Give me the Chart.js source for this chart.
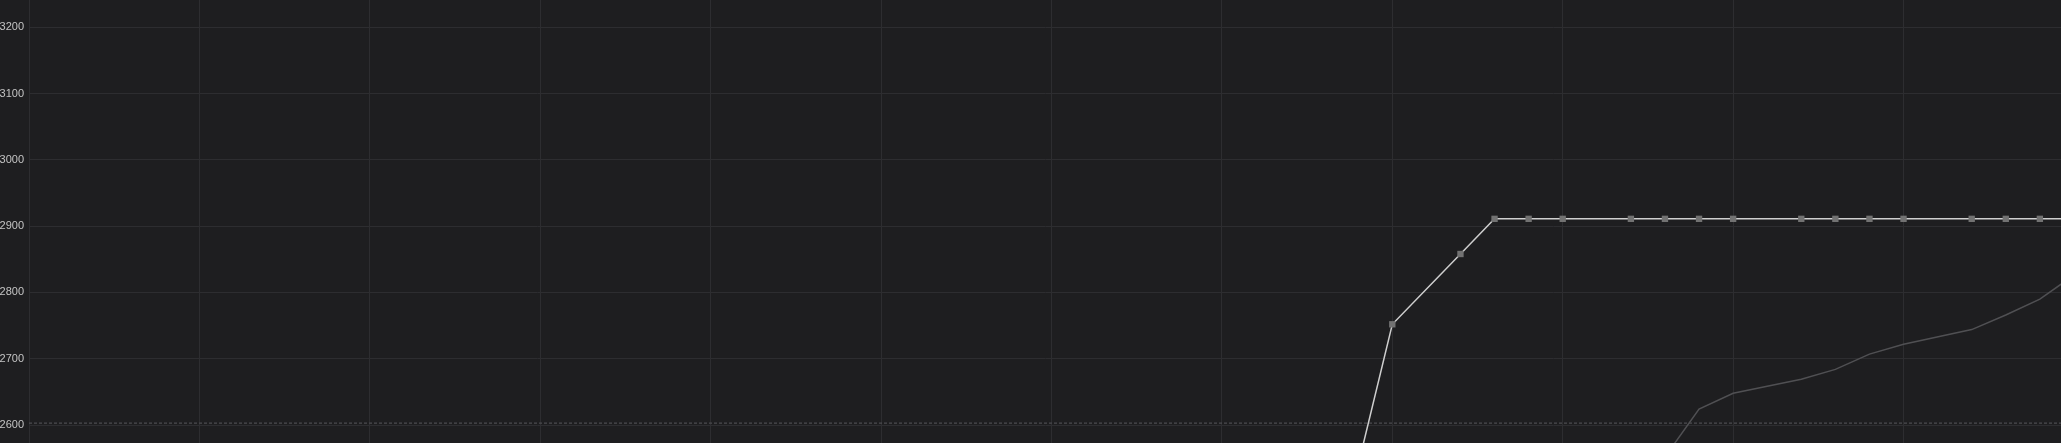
<!DOCTYPE html>
<html>
<head>
<meta charset="utf-8">
<script src="https://cdn.jsdelivr.net/npm/chart.js@4"></script>
<style>
  html, body { margin: 0; padding: 0; background: #1e1e20; overflow: hidden; }
  #wrap { width: 2061px; height: 443px; }
</style>
</head>
<body>
<div id="wrap"><canvas id="c" width="2061" height="443"></canvas></div>
<script>
// ---- data ----
const xIndex = Array.from({ length: 61 }, (_, i) => i);
const leadSeries = [
  null, null, null, null, null, null, null, null, null, null,
  null, null, null, null, null, null, null, null, null, null,
  null, null, null, null, null, null, null, null, null, null,
  null, null, null, null, null, null, null, null, null, 2540,
  2752, null, 2858, 2911, 2911, 2911, null, 2911, 2911, 2911,
  2911, null, 2911, 2911, 2911, 2911, null, 2911, 2911, 2911,
  2911
];
const trailSeries = [
  null, null, null, null, null, null, null, null, null, null,
  null, null, null, null, null, null, null, null, null, null,
  null, null, null, null, null, null, null, null, null, null,
  null, null, null, null, null, null, null, null, null, null,
  null, null, null, null, null, null, null, null, 2552, 2624,
  2648, null, 2669, 2684, 2707, 2722, null, 2744, 2766, 2790,
  2826
];
const refLevel = 2603;
const refSeries = xIndex.map(() => refLevel);
const yMin = 2573, yMax = 3241, yStep = 100;
const xMin = 0, xMax = 59.62, xStep = 5;

const gridColor = '#2d2d30';
const labelColor = '#c4c4c4';

new Chart(document.getElementById('c'), {
  type: 'line',
  data: {
    labels: xIndex,
    datasets: [
      {
        data: refSeries,
        borderColor: '#58585c',
        borderWidth: 1,
        borderDash: [3, 2],
        pointRadius: 0,
        order: 3
      },
      {
        data: trailSeries,
        borderColor: '#505053',
        borderWidth: 1.5,
        pointRadius: 0,
        spanGaps: true,
        tension: 0,
        order: 2
      },
      {
        data: leadSeries,
        borderColor: '#cfcfcf',
        borderWidth: 1.5,
        pointStyle: 'rect',
        pointRadius: 4.5,
        pointBorderWidth: 0,
        pointBackgroundColor: '#727272',
        pointBorderColor: '#727272',
        spanGaps: true,
        tension: 0,
        order: 1
      }
    ]
  },
  options: {
    responsive: false,
    animation: false,
    devicePixelRatio: 1,
    layout: { padding: 0, autoPadding: false },
    plugins: { legend: { display: false }, tooltip: { enabled: false } },
    events: [],
    scales: {
      x: {
        type: 'linear',
        min: xMin,
        max: xMax,
        ticks: { display: false, stepSize: xStep },
        grid: { color: gridColor, drawTicks: false, lineWidth: 1 },
        border: { display: false },
        afterBuildTicks: (axis) => { axis.ticks = axis.ticks.filter(t => t.value % xStep === 0); },
        afterFit: (axis) => {
          axis.height = 0;
          axis.paddingLeft = 0; axis.paddingRight = 0;
          axis.paddingTop = 0; axis.paddingBottom = 0;
        }
      },
      y: {
        min: yMin,
        max: yMax,
        ticks: {
          stepSize: yStep,
          color: labelColor,
          padding: 5,
          font: { family: 'Liberation Sans, Arial, sans-serif', size: 11 },
          callback: (v) => String(v)
        },
        grid: { color: gridColor, drawTicks: false, lineWidth: 1 },
        border: { display: true, color: gridColor },
        afterBuildTicks: (axis) => { axis.ticks = axis.ticks.filter(t => t.value % yStep === 0); },
        afterFit: (axis) => {
          axis.width = 29;
          axis.paddingTop = 0; axis.paddingBottom = 0;
          axis.paddingLeft = 0; axis.paddingRight = 0;
        }
      }
    }
  }
});
</script>
</body>
</html>
